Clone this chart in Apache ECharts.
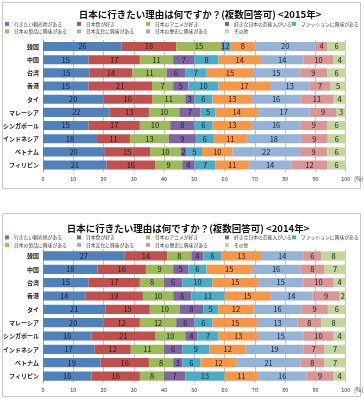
<!DOCTYPE html>
<html><head><meta charset="utf-8">
<script src="https://cdn.jsdelivr.net/npm/echarts@6/dist/echarts.min.js"></script>
<style>html,body{margin:0;padding:0;background:#fff}#c{width:364px;height:400px}</style>
</head><body><div id="c"></div>
<script>
const categories = ['韓国','中国','台湾','香港','タイ','マレーシア','シンガポール','インドネシア','ベトナム','フィリピン'];
const seriesNames = ['行きたい観光地がある','日本食が好き','日本のアニメが好き','好きな日本の芸能人がいる','ファッションに興味がある','日本の製品に興味がある','日本文化に興味がある','日本の歴史に興味がある','その他'];
const xTicks = [0,10,20,30,40,50,60,70,80,90,100];

// 2015
const kankochi2015 = [26,15,15,15,20,22,15,18,20,21];
const washoku2015  = [18,17,14,21,16,13,17,11,15,16];
const anime2015    = [15,11,11,7,11,10,10,13,10,9];
const geinojin2015 = [1,7,6,5,3,7,8,9,2,4];
const fashion2015  = [2,8,7,10,6,5,6,6,5,7];
const seihin2015   = [8,14,15,17,13,14,13,11,10,11];
const bunka2015    = [20,14,15,13,16,17,16,18,22,14];
const rekishi2015  = [4,10,9,7,11,9,9,9,9,12];
const sonota2015   = [6,4,6,5,4,3,6,6,6,6];

// 2014
const kankochi2014 = [27,18,15,14,21,20,16,17,19,16];
const washoku2014  = [14,16,17,19,15,12,21,12,16,16];
const anime2014    = [8,9,8,10,10,12,10,11,8,8];
const geinojin2014 = [4,5,6,6,8,6,4,6,3,7];
const fashion2014  = [6,6,10,11,5,6,7,9,6,13];
const seihin2014   = [13,15,15,15,12,15,13,12,12,11];
const bunka2014    = [14,16,15,14,16,13,15,19,21,16];
const rekishi2014  = [6,8,10,9,9,8,10,7,8,9];
const sonota2014   = [8,7,4,2,6,8,4,7,7,4];

const data2015 = [kankochi2015,washoku2015,anime2015,geinojin2015,fashion2015,seihin2015,bunka2015,rekishi2015,sonota2015];
const data2014 = [kankochi2014,washoku2014,anime2014,geinojin2014,fashion2014,seihin2014,bunka2014,rekishi2014,sonota2014];

const colors = ['#4F81BD','#C0504D','#9BBB59','#8064A2','#4BACC6','#F79646','#95B3D7','#D99694','#C3D69B'];
const FONT = '"Noto Sans CJK JP","Noto Sans",sans-serif';

const panels = [
  {title:'日本に行きたい理由は何ですか？(複数回答可) <2015年>', data:data2015, gridTop:40, gridH:131.6, titleX:200, titleTop:9.5, legendTops:[21.5,29], box:[2.5,2.5,358,186]},
  {title:'日本に行きたい理由は何ですか？(複数回答可) <2014年>', data:data2014, gridTop:249.3, gridH:133.4, titleX:188, titleTop:224, legendTops:[235,242.5], box:[2.5,213.5,358,183]}
];
const legendCols = [5,77,146,225,292];

const option = {
  animation:false,
  color:colors,
  textStyle:{fontFamily:FONT},
  title:[], legend:[], grid:[], xAxis:[], yAxis:[], series:[], graphic:[]
};

panels.forEach((p,pi)=>{
  option.graphic.push({type:'rect', shape:{x:p.box[0],y:p.box[1],width:p.box[2],height:p.box[3]}, style:{fill:'none',stroke:'#c8c8c8',lineWidth:1}, silent:true, z:-10});
  option.title.push({text:p.title, left:p.titleX, top:p.titleTop, textAlign:'center', padding:0,
    textStyle:{fontFamily:FONT, fontSize:9.5, fontWeight:'bold', color:'#111'}});
  seriesNames.forEach((n,i)=>{
    const row = i<5?0:1, col = i<5?i:i-5;
    option.legend.push({data:[n], left:legendCols[col], top:p.legendTops[row], padding:0, icon:'rect',
      itemWidth:4, itemHeight:4, itemGap:0, selectedMode:false,
      textStyle:{fontFamily:FONT, fontSize:4.8, color:'#3a3a3a'}});
  });
  option.grid.push({left:39, right:15, top:p.gridTop, height:p.gridH});
  option.xAxis.push({type:'value', gridIndex:pi, min:0, max:100, interval:10,
    name:'[%]', nameLocation:'end', nameGap:7,
    nameTextStyle:{fontFamily:FONT, fontSize:5.5, color:'#333', verticalAlign:'top', padding:[4.5,0,0,0]},
    axisLine:{show:false}, axisTick:{show:false},
    axisLabel:{fontSize:5.5, color:'#333', margin:4.5, formatter:v=>xTicks.includes(v)?String(v):''},
    splitLine:{show:true, lineStyle:{color:'#c4c4c4', width:1}}});
  option.yAxis.push({type:'category', gridIndex:pi, data:categories, inverse:true,
    axisLine:{show:true, lineStyle:{color:'#a0a0a0'}}, axisTick:{show:false},
    axisLabel:{fontSize:6, color:'#222', fontWeight:'bold', margin:4}});
  const totals = categories.map((_,ci)=>p.data.reduce((s,a)=>s+a[ci],0));
  p.data.forEach((arr,si)=>{
    option.series.push({type:'bar', name:seriesNames[si], xAxisIndex:pi, yAxisIndex:pi, stack:'s'+pi,
      barCategoryGap:'31%',
      itemStyle:{color:colors[si]},
      label:{show:true, position:'inside', fontSize:7.5, color:'#1c1c2c', formatter:prm=>String(arr[prm.dataIndex])},
      data:arr.map((v,ci)=>v/totals[ci]*100)});
  });
});

const chart = echarts.init(document.getElementById('c'), null, {renderer:'canvas'});
chart.setOption(option);
</script></body></html>
